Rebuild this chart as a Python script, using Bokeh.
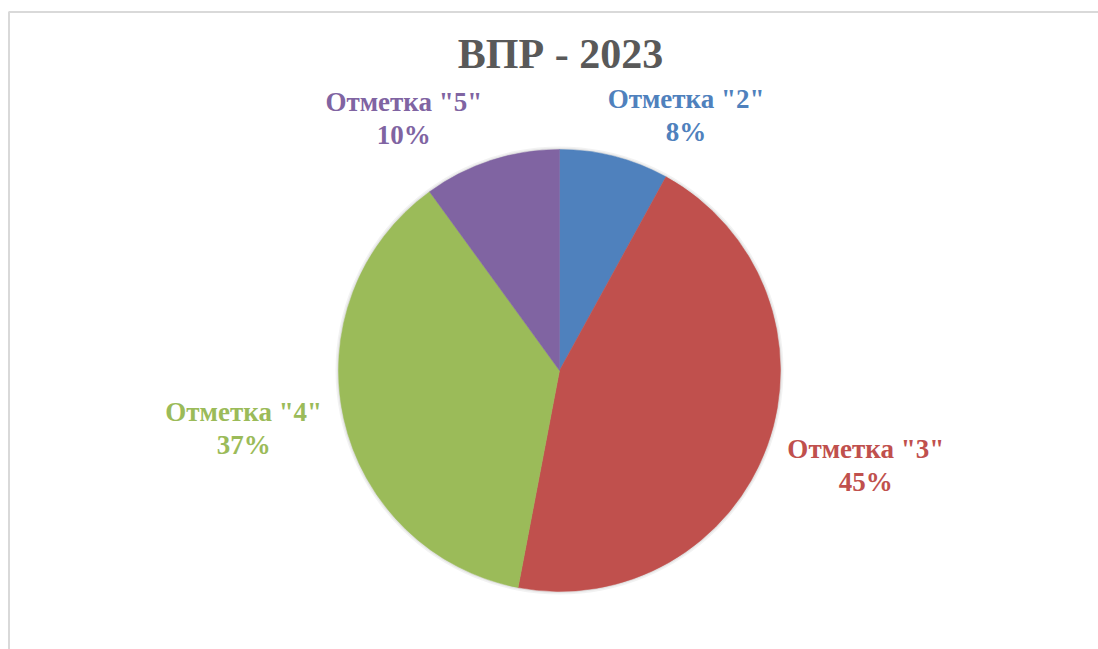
import math
from bokeh.plotting import figure
from bokeh.models import Range1d, ColumnDataSource
from bokeh.core.properties import value
from bokeh.embed import file_html
from bokeh.resources import INLINE

# ---- data ----
title_text = "ВПР - 2023"
categories = ['Отметка "2"', 'Отметка "3"', 'Отметка "4"', 'Отметка "5"']
percents = [8, 45, 37, 10]
colors = ["#4F81BD", "#C0504D", "#9BBB59", "#8064A2"]

# ---- layout ----
W, H = 1098, 649
CX, CY, R = 559, 279, 221
LABEL_R = 300
nudges = [(52, -36), (24, 7), (-23, 7), (-63, -33)]

p = figure(width=W, height=H, output_backend="svg", toolbar_location=None,
           x_axis_type=None, y_axis_type=None,
           x_range=Range1d(0, W), y_range=Range1d(0, H), min_border=0)
p.outline_line_color = None
p.grid.visible = False
p.background_fill_color = "white"

# chart-area border (top and left visible)
p.segment(x0=[8, 8.5], y0=[637.5, 0], x1=[W, 8.5], y1=[637.5, 637.5],
          line_color="#D9D9D9", line_width=2)

# soft shadow
p.circle(x=[CX], y=[CY], radius=R + 3, fill_color="#000000", fill_alpha=0.05, line_color=None)
p.circle(x=[CX], y=[CY], radius=R + 1.5, fill_color="#000000", fill_alpha=0.06, line_color=None)

total = sum(percents)
starts, ends, mids = [], [], []
acc = 0.0
for v in percents:
    a0 = math.pi / 2 - 2 * math.pi * acc / total
    acc += v
    a1 = math.pi / 2 - 2 * math.pi * acc / total
    starts.append(a0)
    ends.append(a1)
    mids.append((a0 + a1) / 2)

src = ColumnDataSource(dict(start=starts, end=ends, color=colors))
p.wedge(x=CX, y=CY, radius=R, start_angle="start", end_angle="end",
        direction="clock", fill_color="color", line_color="color", line_width=0.5,
        source=src)

lx, ly, ltxt = [], [], []
for cat, v, m, (dx, dy) in zip(categories, percents, mids, nudges):
    lx.append(CX + LABEL_R * math.cos(m) + dx)
    ly.append(CY + LABEL_R * math.sin(m) + dy)
    ltxt.append(f"{cat}\n{v}%")

lsrc = ColumnDataSource(dict(x=lx, y=ly, t=ltxt, c=colors))
p.text(x="x", y="y", text="t", text_color="c", source=lsrc,
       text_font=value("Liberation Serif"), text_font_style="bold",
       text_font_size="27px", text_align="center", text_baseline="middle",
       text_line_height=1.1)

p.text(x=[W / 2 + 11], y=[596], text=[title_text], text_color="#595959",
       text_font=value("Liberation Serif"), text_font_style="bold",
       text_font_size="42px", text_align="center", text_baseline="middle")

open("out.html", "w").write(file_html(p, INLINE))
